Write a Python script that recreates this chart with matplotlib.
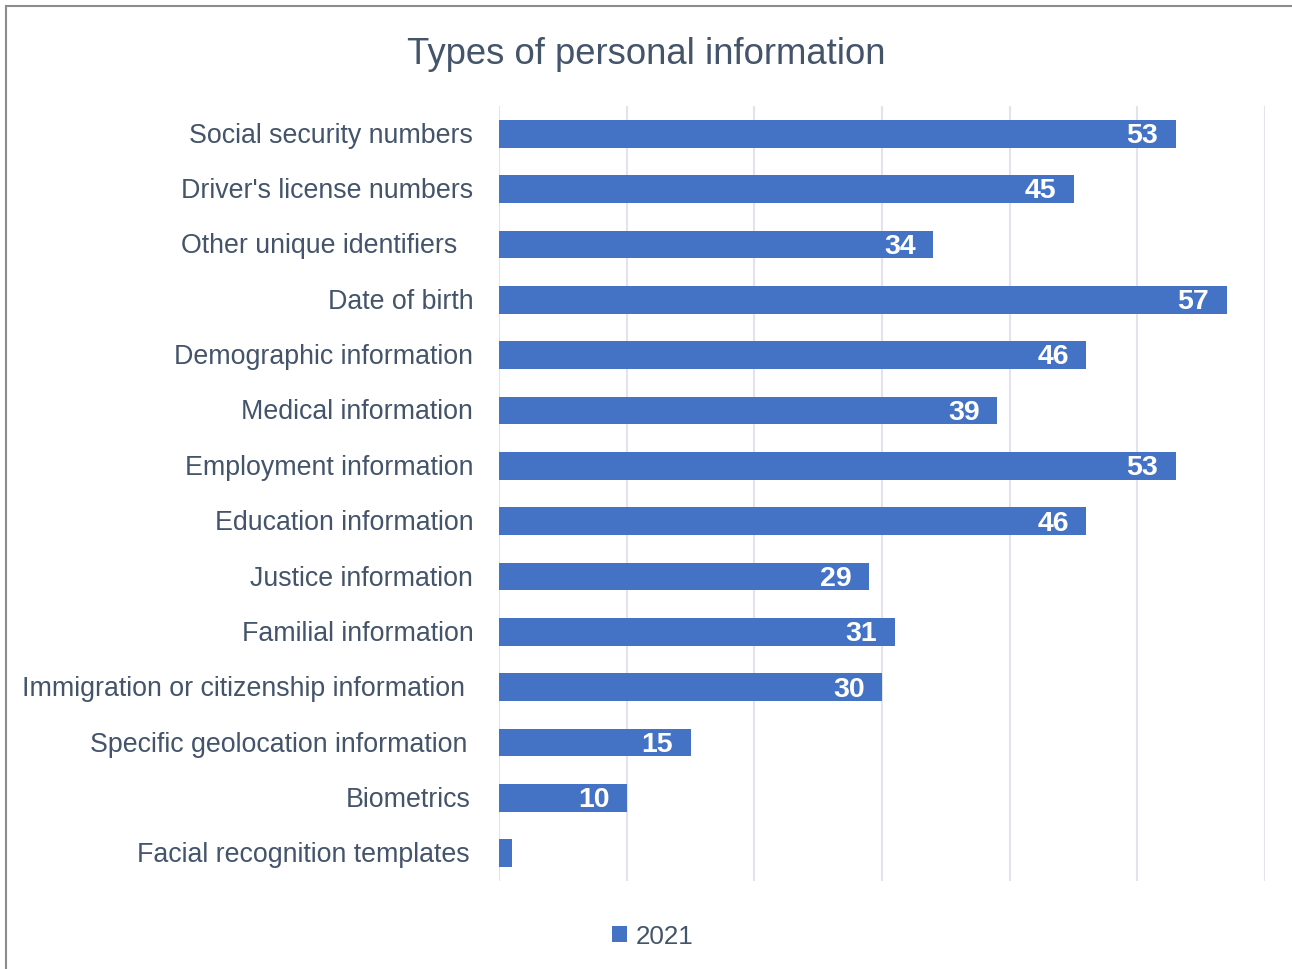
import matplotlib.pyplot as plt
import matplotlib.transforms as mtransforms
from matplotlib.patches import Rectangle

plt.rcParams['font.family'] = ['Liberation Sans', 'DejaVu Sans']

# data
categories = ["Social security numbers", "Driver's license numbers", "Other unique identifiers",
              "Date of birth", "Demographic information", "Medical information",
              "Employment information", "Education information", "Justice information",
              "Familial information", "Immigration or citizenship information",
              "Specific geolocation information", "Biometrics", "Facial recognition templates"]
values_2021 = [53, 45, 34, 57, 46, 39, 53, 46, 29, 31, 30, 15, 10, 1]
value_labels = ["53", "45", "34", "57", "46", "39", "53", "46", "29", "31", "30", "15", "10", ""]
series_name = "2021"
title = "Types of personal information"

# extra label gap (px) for labels that sit further from the axis in the original
extra_pad = [0, 0, 16, 0, 0, 0, 0, 0, 0, 0, 8, 6, 3, 4]

text_col = '#44546A'
bar_col = '#4472C4'
grid_col = '#E1E4EA'

fig = plt.figure(figsize=(12.92, 9.70), dpi=100)
ax = fig.add_axes([499/1292, 1 - 882/970, (1265 - 499)/1292, (882 - 107)/970])

ypos = list(range(len(categories)))
bars = ax.barh(ypos, values_2021, height=0.5, color=bar_col, label=series_name, zorder=3)
ax.set_ylim(len(categories) - 0.5, -0.5)
ax.set_xlim(0, 60)
ax.set_xticks(range(0, 61, 10))
ax.xaxis.grid(True, color=grid_col, linewidth=1.5, zorder=0)
ax.tick_params(axis='x', length=0, labelbottom=False)
ax.tick_params(axis='y', length=0, labelsize=19.3, labelcolor=text_col)
ax.set_yticks(ypos)
ax.set_yticklabels(categories)
shift_up = mtransforms.ScaledTranslation(0, 2/100, fig.dpi_scale_trans)
for tick, p in zip(ax.yaxis.get_major_ticks(), extra_pad):
    tick.set_pad(18.5 + p / 1.389)
    tick.label1.set_transform(tick.label1.get_transform() + shift_up)
for s in ax.spines.values():
    s.set_visible(False)

for b, lab in zip(bars, value_labels):
    if lab:
        ax.annotate(lab, (b.get_width(), b.get_y() + b.get_height() / 2),
                    xytext=(-12.5, -1), textcoords='offset points', ha='right', va='center',
                    color='white', fontsize=20.5, fontweight='bold', zorder=4)

fig.text(0.5, 1 - 54/970, title, ha='center', va='center', fontsize=26.3, color=text_col)

leg = fig.legend(loc='center', bbox_to_anchor=(0.505, 1 - 937/970), frameon=False,
                 fontsize=18.7, handlelength=0.6, handleheight=0.6, handletextpad=0.3)
for t in leg.get_texts():
    t.set_color(text_col)

# chart border (cut off at right and bottom)
fig.patches.append(Rectangle((6/1292, -0.1), 1.2, 1 - 7/970 + 0.1, transform=fig.transFigure,
                             fill=False, edgecolor='#8C8C8C', linewidth=1.5))

fig.savefig('out.png', dpi=100)
